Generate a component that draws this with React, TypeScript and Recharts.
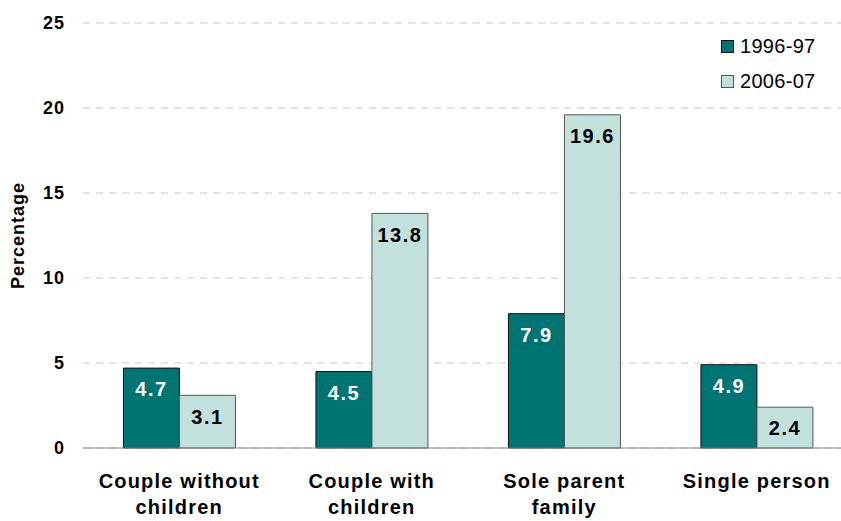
import { BarChart, Bar, XAxis, YAxis, CartesianGrid, Legend, LabelList } from 'recharts';

const categories = ['Couple without children', 'Couple with children', 'Sole parent family', 'Single person'];
// two-line tick text for each category
const categoryLines = [
    ['Couple without', 'children'],
    ['Couple with', 'children'],
    ['Sole parent', 'family'],
    ['Single person'],
];
const values1996 = [4.7, 4.5, 7.9, 4.9];
const values2006 = [3.1, 13.8, 19.6, 2.4];
const yTicks = [0, 5, 10, 15, 20, 25];
const edgeTicks = [0, 1, 2, 3, 4];

const FONT = '"Liberation Sans", Arial, sans-serif';
const DARK = '#007373';
const LIGHT = '#C3E1DC';

const chartData = categories.map((name, i) => ({
    name,
    idx: i,
    v1996: values1996[i],
    v2006: values2006[i],
}));

const CategoryTick = (props: any) => {
    const { x, y, payload } = props;
    const lines = categoryLines[payload.index] ?? [payload.value];
    return (
        <text
            x={x}
            y={y}
            textAnchor="middle"
            fill="#000"
            fontFamily={FONT}
            fontSize={20}
            fontWeight="bold"
            letterSpacing={1.2}
        >
            {lines.map((line: string, i: number) => (
                <tspan key={i} x={x} y={y + 40 + i * 26}>
                    {line}
                </tspan>
            ))}
        </text>
    );
};

const renderYLabel = (props: any) => {
    const { viewBox } = props;
    const cx = 18;
    const cy = viewBox.y + viewBox.height / 2;
    return (
        <text
            x={cx}
            y={cy}
            transform={`rotate(-90 ${cx} ${cy})`}
            textAnchor="middle"
            dominantBaseline="central"
            fill="#000"
            fontFamily={FONT}
            fontSize={18}
            fontWeight="bold"
            letterSpacing={1}
        >
            Percentage
        </text>
    );
};

const renderLegend = () => {
    const items = [
        { label: '1996-97', fill: DARK, stroke: '#111' },
        { label: '2006-07', fill: LIGHT, stroke: '#555' },
    ];
    return (
        <div style={{ fontFamily: FONT }}>
            {items.map((it) => (
                <div key={it.label} style={{ display: 'flex', alignItems: 'center', height: 35 }}>
                    <div
                        style={{
                            width: 11,
                            height: 11,
                            background: it.fill,
                            border: `1px solid ${it.stroke}`,
                            marginRight: 6,
                        }}
                    />
                    <span style={{ fontSize: 20, letterSpacing: 0.3, color: '#000' }}>{it.label}</span>
                </div>
            ))}
        </div>
    );
};

export default function App() {
    return (
        <div style={{ position: 'absolute', left: 0, top: 0, width: 841, height: 521, overflow: 'hidden', background: '#fff' }}>
            <BarChart
                width={860}
                height={521}
                data={chartData}
                margin={{ top: 23, right: 7, left: 0, bottom: 0 }}
                barCategoryGap="21%"
                barGap={0}
            >
                <CartesianGrid vertical={false} stroke="#c8c8c8" strokeDasharray="7 6" />
                <XAxis
                    xAxisId="edges"
                    type="number"
                    dataKey="idx"
                    domain={[0, 4]}
                    ticks={edgeTicks}
                    tick={false}
                    axisLine={false}
                    tickLine={{ stroke: '#777' }}
                    tickSize={5}
                    height={0}
                    allowDataOverflow
                />
                <XAxis
                    xAxisId="main"
                    dataKey="name"
                    tick={<CategoryTick />}
                    tickLine={false}
                    tickSize={0}
                    tickMargin={0}
                    axisLine={{ stroke: '#888' }}
                    height={73}
                    interval={0}
                />
                <YAxis
                    domain={[0, 25]}
                    ticks={yTicks}
                    width={83}
                    axisLine={false}
                    tickLine={false}
                    tickSize={0}
                    tickMargin={18}
                    tick={{ fill: '#000', fontSize: 18, fontWeight: 'bold', fontFamily: FONT, letterSpacing: 1 }}
                    label={{ content: renderYLabel }}
                />
                <Legend
                    content={renderLegend}
                    layout="horizontal"
                    align="center"
                    verticalAlign="middle"
                    wrapperStyle={{ position: 'absolute', left: 721, top: 29, width: 120 }}
                />
                <Bar xAxisId="main" dataKey="v1996" name="1996-97" fill={DARK} stroke="#111" strokeWidth={1} isAnimationActive={false}>
                    <LabelList
                        dataKey="v1996"
                        position="insideTop"
                        offset={14}
                        fill="#fff"
                        fontSize={20}
                        fontWeight="bold"
                        fontFamily={FONT}
                        letterSpacing={1.5}
                        formatter={(v: any) => Number(v).toFixed(1)}
                    />
                </Bar>
                <Bar xAxisId="main" dataKey="v2006" name="2006-07" fill={LIGHT} stroke="#555" strokeWidth={1} isAnimationActive={false}>
                    <LabelList
                        dataKey="v2006"
                        position="insideTop"
                        offset={14}
                        fill="#000"
                        fontSize={20}
                        fontWeight="bold"
                        fontFamily={FONT}
                        letterSpacing={1.5}
                        formatter={(v: any) => Number(v).toFixed(1)}
                    />
                </Bar>
            </BarChart>
        </div>
    );
}
